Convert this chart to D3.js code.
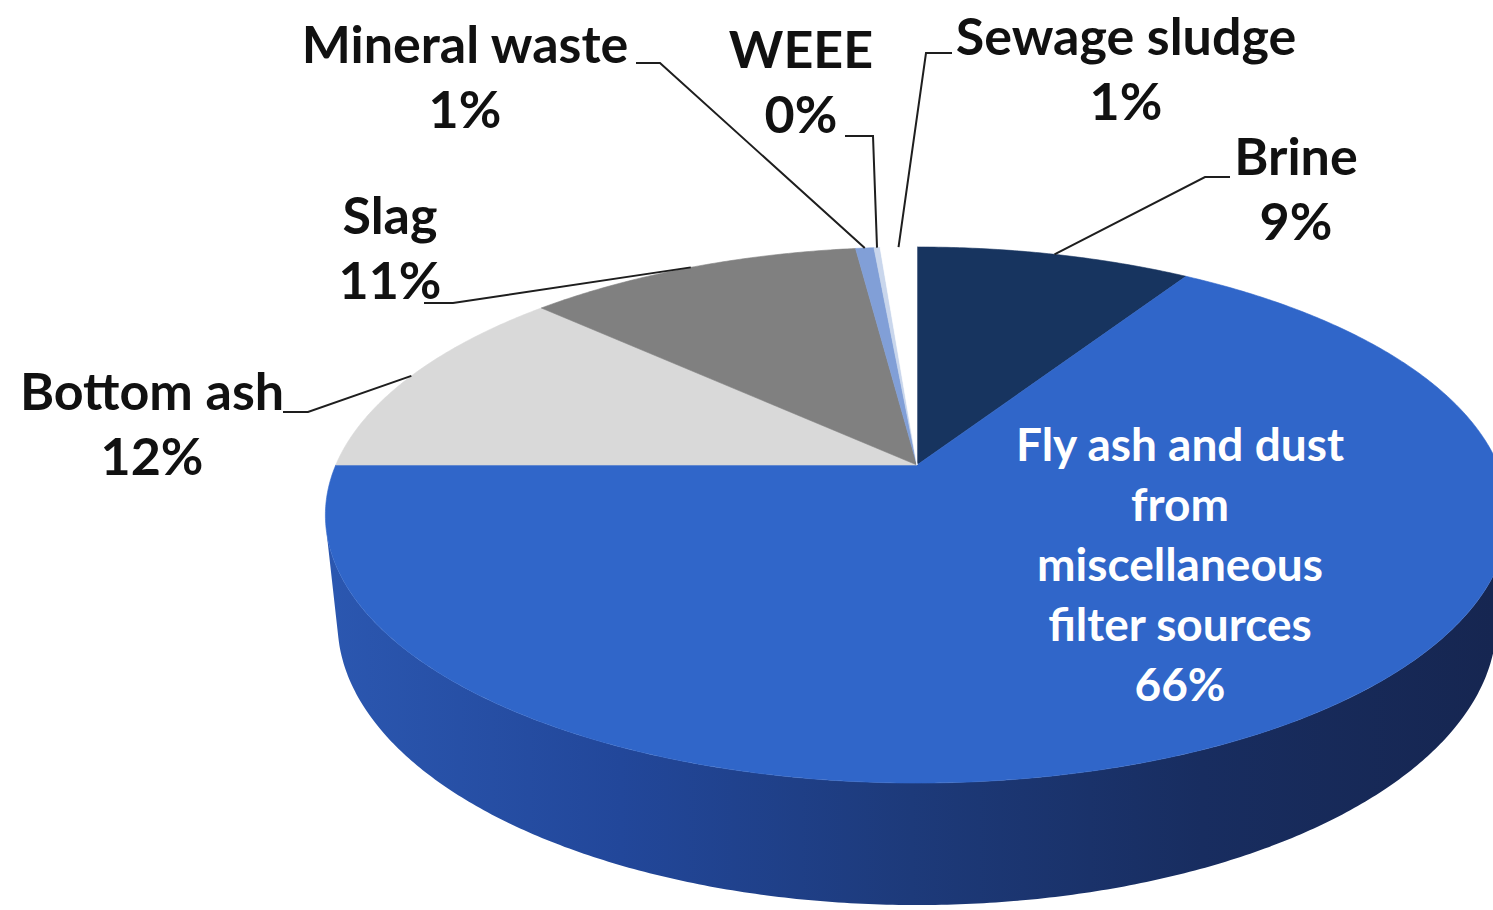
<!DOCTYPE html>
<meta charset='utf-8'>
<title>Waste streams 3D pie</title>
<style>
body {
  margin: 0;
  background-color: #fff;
}
text {
  font-family: Lato, "Open Sans", sans-serif;
  font-weight: bold;
}
</style>
<svg width="1493" height="910"></svg>
<script src="https://d3js.org/d3.v7.min.js"></script>
<script>

// data, clockwise from 12 o'clock (Excel order)
var categories = ["Brine", "Fly ash and dust from miscellaneous filter sources", "Bottom ash", "Slag", "Mineral waste", "WEEE", "Sewage sludge"];
var shares = [9, 66, 12, 11, 0.6, 0.2, 1.2];
var colors = ["#17345f", "#3066c9", "#d9d9d9", "#808080", "#819fd7", "#c9d6ec", "#ffffff"];

// how each category name is broken into lines
var nameLines = [["Brine"], ["Fly ash and dust", "from", "miscellaneous", "filter sources"], ["Bottom ash"], ["Slag"], ["Mineral waste"], ["WEEE"], ["Sewage sludge"]];

// label placement (placed by hand in the original chart)
var labelAt = [[1296, 175], [1180, 461], [152, 410], [390, 234], [465, 63], [801, 68], [1126, 55]];
// leader line: start x, start y, elbow x (null = label sits on the slice)
var leaderAt = [[1230, 177, 1205], null, [283, 412, 308], [424, 303, 453], [636, 63, 660], [845, 136, 873], [952, 53, 926]];

var svg = d3.select("svg");
var defs = svg.append("defs");

// simple perspective camera looking down on a unit disc
var phi = 27 * Math.PI / 180,
    s = Math.sin(phi),
    c = Math.cos(phi),
    D = c * (1.459 + 1) / (1.459 - 1),
    f = 218 * (D + c) / s,
    ox = 917, oy = 465,
    kx = 1.02,
    thick = 0.213;

function project(theta, r, y) {
  var x = r * Math.sin(theta), z = -r * Math.cos(theta);
  var depth = D - y * s - z * c;
  return [ox + kx * f * x / depth, oy - f * (y * c - z * s) / depth];
}

function arcPoints(a0, a1, y) {
  var n = Math.max(2, Math.ceil(Math.abs(a1 - a0) / (Math.PI / 360)));
  return d3.range(n + 1).map(function(i) { return project(a0 + (a1 - a0) * i / n, 1, y); });
}

var line = d3.line();

var arcs = d3.pie().sort(null).value(function(d) { return d; })(shares);

// side wall shading, light on the left and dark on the right
var grad = defs.append("linearGradient")
    .attr("id", "wall")
    .attr("gradientUnits", "userSpaceOnUse")
    .attr("x1", 330).attr("x2", 1493).attr("y1", 0).attr("y2", 0);
[[0, "#2b57b0"], [0.25, "#22479a"], [0.5, "#1d3a7a"], [0.75, "#182d60"], [1, "#162651"]].forEach(function(st) {
  grad.append("stop").attr("offset", st[0]).attr("stop-color", st[1]);
});

// only the part of the wall facing the camera
var vis = Math.acos(-1 / (D * c));

svg.append("g").selectAll("path")
    .data(arcs.filter(function(d) { return d.endAngle > vis && d.startAngle < 2 * Math.PI - vis; }))
  .enter().append("path")
    .attr("d", function(d) {
      var a0 = Math.max(d.startAngle, vis), a1 = Math.min(d.endAngle, 2 * Math.PI - vis);
      var pts = arcPoints(a0, a1, 0).concat(arcPoints(a1, a0, -thick));
      return line(pts) + "Z";
    })
    .attr("fill", "url(#wall)");

// top faces
svg.append("g").selectAll("path")
    .data(arcs)
  .enter().append("path")
    .attr("d", function(d) {
      return line([project(0, 0, 0)].concat(arcPoints(d.startAngle, d.endAngle, 0))) + "Z";
    })
    .attr("fill", function(d, i) { return colors[i]; })
    .attr("stroke", function(d, i) { return colors[i]; })
    .attr("stroke-width", 0.6);

// leader lines
svg.append("g").selectAll("path")
    .data(arcs.filter(function(d, i) { return leaderAt[i]; }))
  .enter().append("path")
    .attr("d", function(d) {
      var l = leaderAt[d.index];
      var end = project((d.startAngle + d.endAngle) / 2, 1, 0);
      return line([[l[0], l[1]], [l[2], l[1]], end]);
    })
    .attr("fill", "none")
    .attr("stroke", "#1e1e1e")
    .attr("stroke-width", 2);

var pct = d3.format(".0%");

// labels
var labels = svg.append("g").selectAll("text")
    .data(arcs)
  .enter().append("text")
    .attr("text-anchor", "middle")
    .attr("x", function(d) { return labelAt[d.index][0]; })
    .attr("y", function(d) { return labelAt[d.index][1]; })
    .attr("fill", function(d) { return d.index === 1 ? "#fff" : "#111"; })
    .attr("font-size", function(d) { return d.index === 1 ? 46 : 52; });

labels.selectAll("tspan")
    .data(function(d) {
      var gap = d.index === 1 ? 60 : 65;
      return nameLines[d.index].concat([pct(d.value / 100)]).map(function(t, k) {
        return { t: t, x: labelAt[d.index][0], dy: k === 0 ? 0 : gap };
      });
    })
  .enter().append("tspan")
    .attr("x", function(d) { return d.x; })
    .attr("dy", function(d) { return d.dy; })
    .text(function(d) { return d.t; });

</script>
